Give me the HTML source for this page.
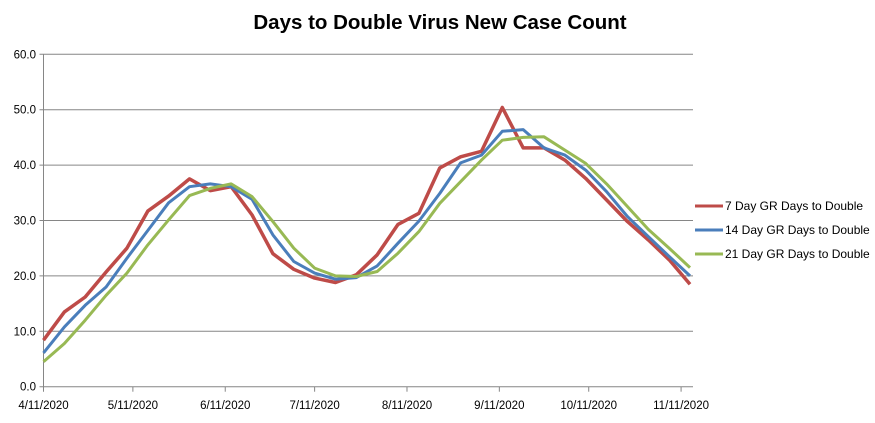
<!DOCTYPE html>
<html><head><meta charset="utf-8"><style>
body{margin:0;background:#fff;}
svg text{font-family:"Liberation Sans","DejaVu Sans",sans-serif;fill:#000;}
</style></head><body>
<svg id="chart" width="875" height="418" xmlns="http://www.w3.org/2000/svg">
<rect width="875" height="418" fill="#fff"/>
<text x="440" y="29" text-anchor="middle" font-size="20.5" font-weight="bold">Days to Double Virus New Case Count</text>
<g id="grid"></g><g id="axes"></g><g id="series"></g><g id="legend"></g>
</svg>
<script>
const yTicks=[0,10,20,30,40,50,60];
const xTickLabels=["4/11/2020","5/11/2020","6/11/2020","7/11/2020","8/11/2020","9/11/2020","10/11/2020","11/11/2020"];
const xTickDays=[0,30,61,91,122,153,183,214];
const pointDays=[0,7,14,21,28,35,42,49,56,63,70,77,84,91,98,105,112,119,126,133,140,147,154,161,168,175,182,189,196,203,210,217];
const seriesNames=["7 Day GR Days to Double","14 Day GR Days to Double","21 Day GR Days to Double"];
const seriesColors=["#BE4B48","#4A7EBB","#98B954"];
const red=[8.4,13.5,16.2,20.7,25,31.7,34.4,37.5,35.4,36.1,31,24,21.2,19.6,18.8,20.2,23.8,29.3,31.3,39.5,41.5,42.5,50.4,43.1,43.1,40.9,37.6,33.7,29.8,26.5,22.9,18.5];
const blue=[6.1,10.8,14.7,18,23.2,28.2,33.2,36.1,36.6,36.1,33.8,27.4,22.6,20.5,19.4,19.7,21.8,25.9,29.9,34.9,40.4,41.8,46.1,46.4,43.1,41.8,39.1,35.2,30.7,27.1,23.5,20];
const green=[4.5,7.8,12,16.5,20.5,25.6,30.1,34.5,35.8,36.6,34.3,29.8,25,21.4,20,19.9,20.8,24.1,28,33.1,37,40.9,44.5,45,45.1,42.7,40.3,36.6,32.5,28.4,25,21.5];
const X0=43.5,X1=693,DMAX=218,Y0=386.7,Y1=54.3;
const xs=d=>X0+(X1-X0)*d/DMAX;
const ys=v=>Y0-(Y0-Y1)*v/60;
const NS="http://www.w3.org/2000/svg";
function mk(t,a,p){const e=document.createElementNS(NS,t);for(const k in a)e.setAttribute(k,a[k]);p.appendChild(e);return e;}
const grid=document.getElementById('grid'),axes=document.getElementById('axes'),ser=document.getElementById('series'),leg=document.getElementById('legend');
yTicks.forEach(v=>{
 const l=mk('line',{x1:X0-4,x2:X1,y1:ys(v),y2:ys(v),stroke:'#868686','stroke-width':1},grid);
 
 
 const t=mk('text',{x:36,y:ys(v)+4,'text-anchor':'end','font-size':11.5},axes);
 t.textContent=v.toFixed(1);
 
 
});
const ya=mk('line',{x1:X0,x2:X0,y1:Y1,y2:Y0,stroke:'#868686'},axes);


xTickDays.forEach((d,i)=>{
 mk('line',{x1:xs(d),x2:xs(d),y1:Y0,y2:Y0+5,stroke:'#868686'},axes);
 const t=mk('text',{x:xs(d),y:409,'text-anchor':'middle','font-size':11.5},axes);
 t.textContent=xTickLabels[i];
 
 
});
[red,blue,green].forEach((vals,i)=>{
 const pts=vals.map((v,j)=>xs(pointDays[j]).toFixed(1)+','+ys(v).toFixed(1)).join(' ');
 const p=mk('polyline',{points:pts,fill:'none',stroke:seriesColors[i],'stroke-width':i==0?3.5:3,'stroke-linejoin':'round'},ser);
 
 
 const ly=206+i*24;
 const g=mk('g',{},leg);
 
 
 mk('line',{x1:695,x2:723,y1:ly,y2:ly,stroke:seriesColors[i],'stroke-width':3},g);
 const t=mk('text',{x:725,y:ly+4,'font-size':12},g);
 t.textContent=seriesNames[i];
});
</script>
</body></html>
